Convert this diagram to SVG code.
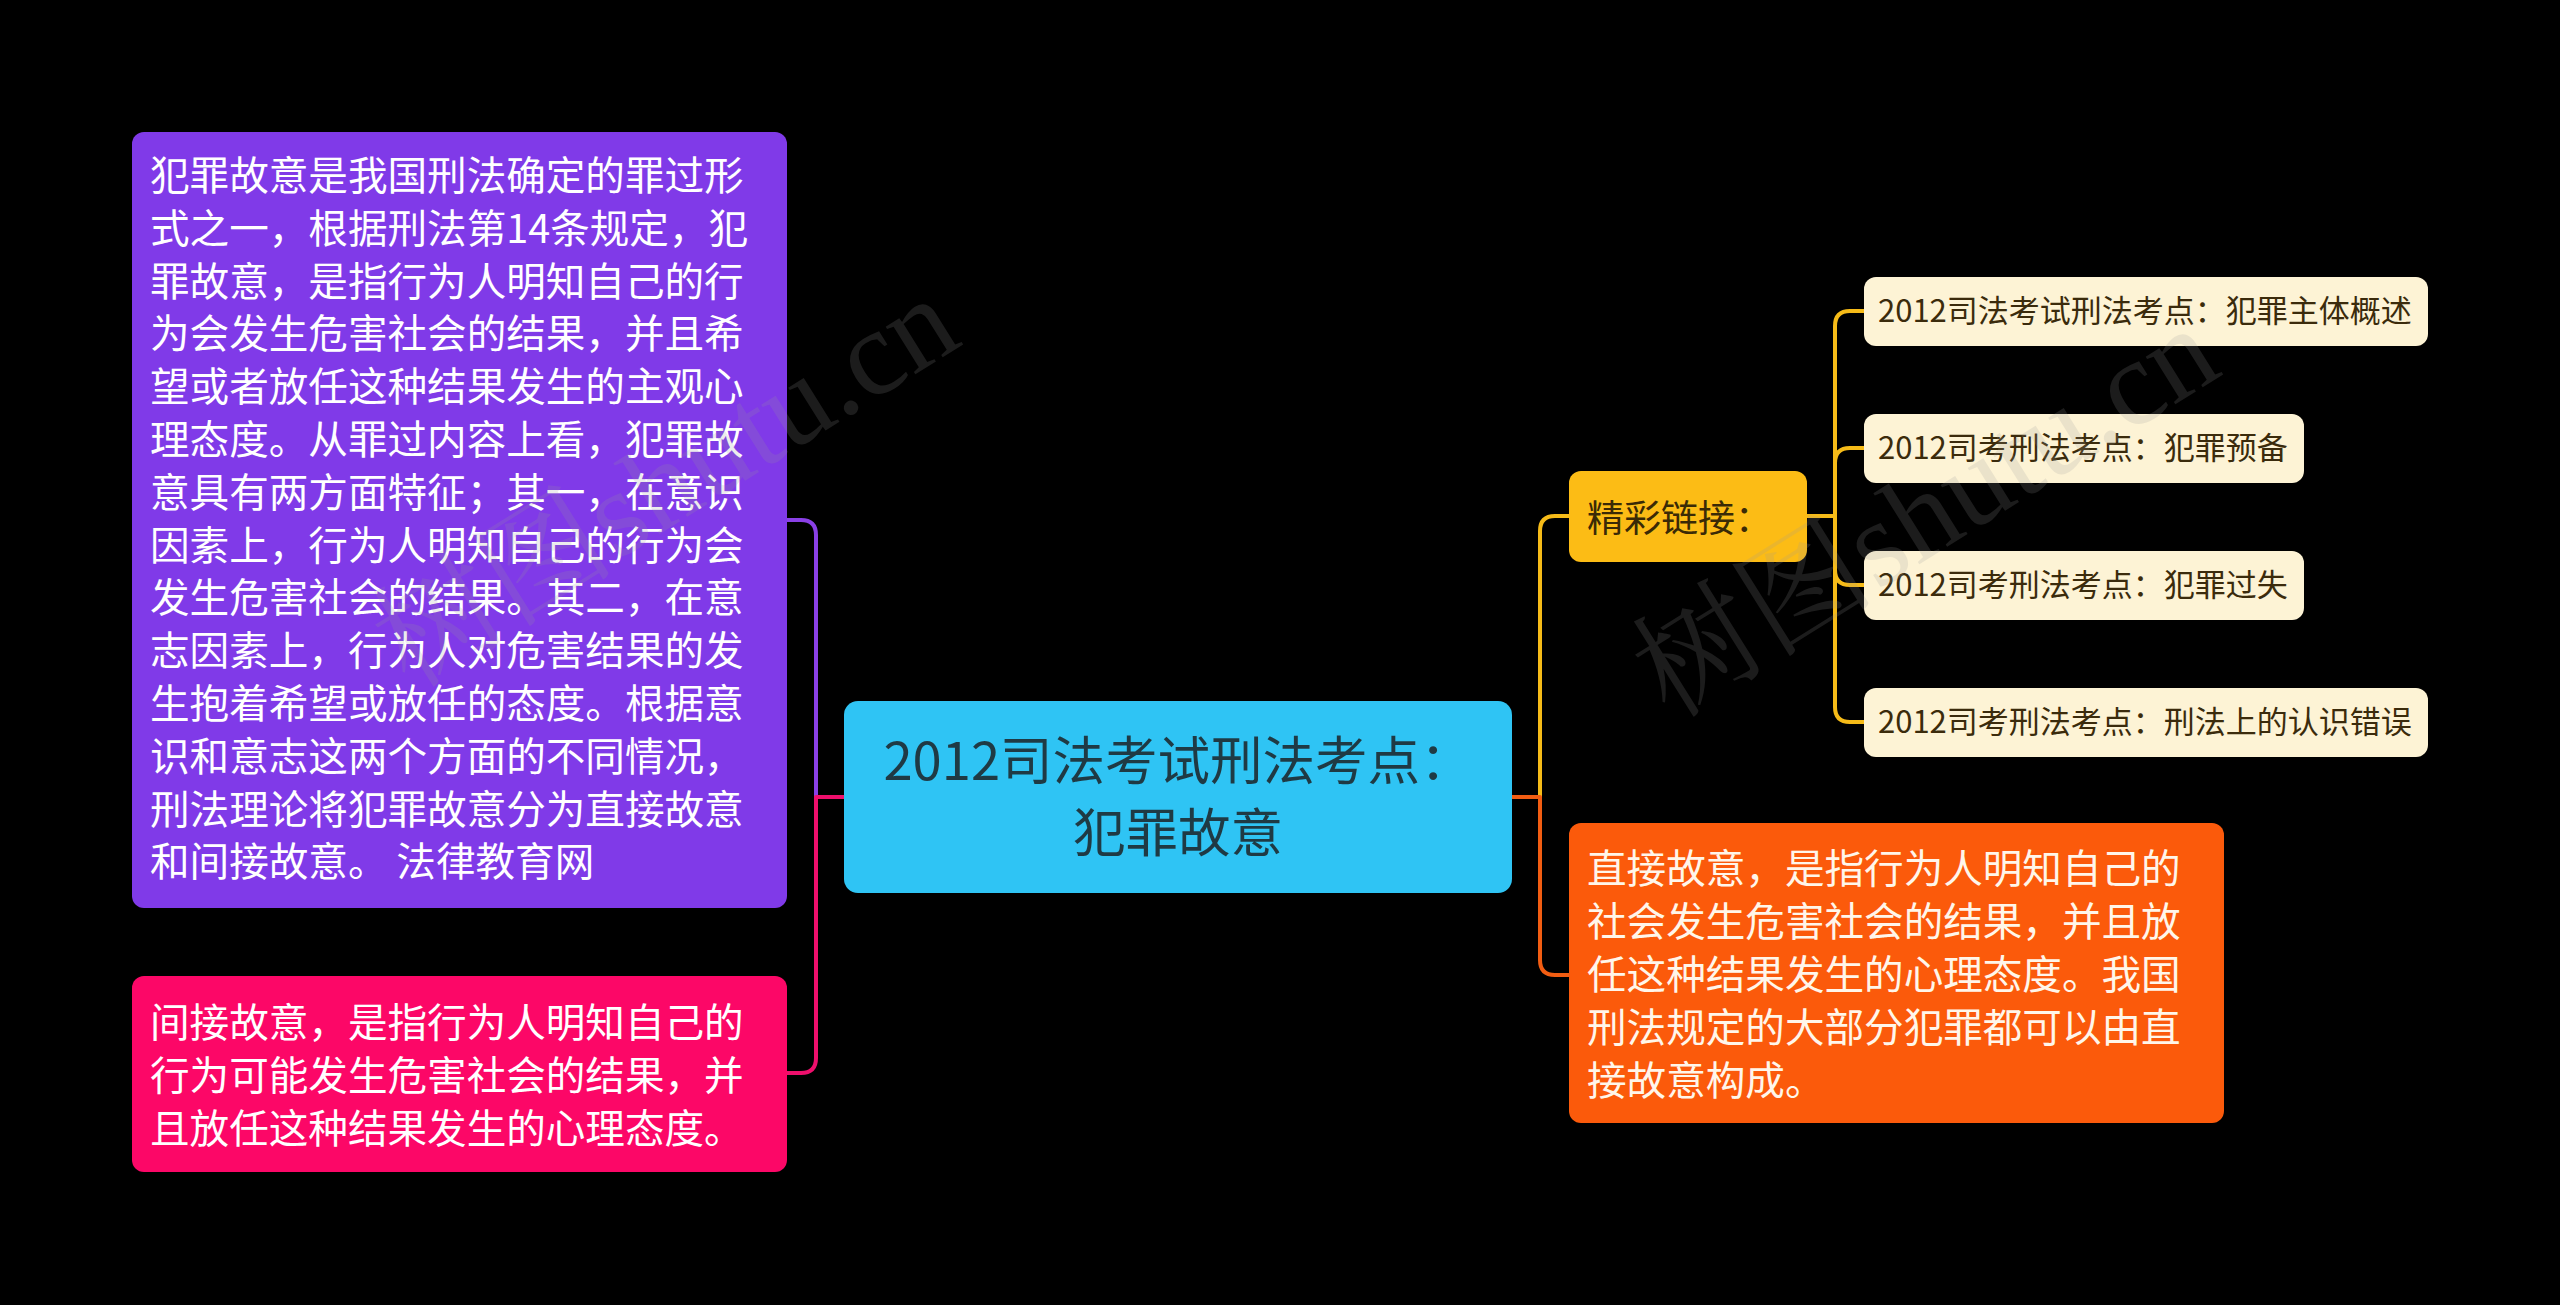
<svg xmlns="http://www.w3.org/2000/svg" width="2560" height="1305" viewBox="0 0 2560 1305">
<style>
text{font-family:"Noto Sans CJK SC","Noto Sans",sans-serif}
.t39{font-size:39.6px;fill:#ffffff}
.t30{font-size:31px;fill:#3b2b0c}
.c{fill:none;stroke-width:4;stroke-linecap:round;stroke-linejoin:round}
.link{fill:#fdf3d5}
.wm{font-family:"Liberation Serif","Noto Serif CJK SC","Noto Sans CJK SC",serif;font-size:122px;fill:#9a9a9a;opacity:0.18}
</style>
<rect x="0" y="0" width="2560" height="1305" fill="#000000"/>
<g id="connectors">
<path class="c" stroke="#8a40e6" d="M844,797 H816 V535 Q816,520 801,520 H787"/>
<path class="c" stroke="#ee0f6c" d="M844,797 H816 V1058 Q816,1073 801,1073 H787"/>
<path class="c" stroke="#f6bb18" d="M1512,797 H1540 V531 Q1540,516 1555,516 H1570"/>
<path class="c" stroke="#f25d12" d="M1512,797 H1540 V960 Q1540,975 1555,975 H1570"/>
<path class="c" stroke="#f6bb18" stroke-width="3.5" d="M1807,516 H1835 V326 Q1835,311 1850,311 H1864"/>
<path class="c" stroke="#f6bb18" stroke-width="3.5" d="M1807,516 H1835 V463 Q1835,448 1850,448 H1864"/>
<path class="c" stroke="#f6bb18" stroke-width="3.5" d="M1807,516 H1835 V570 Q1835,585 1850,585 H1864"/>
<path class="c" stroke="#f6bb18" stroke-width="3.5" d="M1807,516 H1835 V707 Q1835,722 1850,722 H1864"/>
</g>
<g id="root">
<rect x="844" y="701" width="668" height="192" rx="14" fill="#2fc4f4"/>
<text x="1178" y="780" text-anchor="middle" font-size="52.5" fill="#1f3a44">2012司法考试刑法考点：</text>
<text x="1178" y="852" text-anchor="middle" font-size="52.5" fill="#1f3a44">犯罪故意</text>
</g>
<g id="node-purple">
<rect x="132" y="132" width="655" height="776" rx="12" fill="#803ae8"/>
<text class="t39">
<tspan x="150" y="190">犯罪故意是我国刑法确定的罪过形</tspan>
<tspan x="150" y="242.8">式之一，根据刑法第14条规定，犯</tspan>
<tspan x="150" y="295.6">罪故意，是指行为人明知自己的行</tspan>
<tspan x="150" y="348.4">为会发生危害社会的结果，并且希</tspan>
<tspan x="150" y="401.2">望或者放任这种结果发生的主观心</tspan>
<tspan x="150" y="454">理态度。从罪过内容上看，犯罪故</tspan>
<tspan x="150" y="506.8">意具有两方面特征；其一，在意识</tspan>
<tspan x="150" y="559.6">因素上，行为人明知自己的行为会</tspan>
<tspan x="150" y="612.4">发生危害社会的结果。其二，在意</tspan>
<tspan x="150" y="665.2">志因素上，行为人对危害结果的发</tspan>
<tspan x="150" y="718">生抱着希望或放任的态度。根据意</tspan>
<tspan x="150" y="770.8">识和意志这两个方面的不同情况，</tspan>
<tspan x="150" y="823.6">刑法理论将犯罪故意分为直接故意</tspan>
<tspan x="150" y="876.4">和间接故意。 法律教育网</tspan>
</text>
</g>
<g id="node-pink">
<rect x="132" y="976" width="655" height="196" rx="12" fill="#fc0767"/>
<text class="t39">
<tspan x="150" y="1037">间接故意，是指行为人明知自己的</tspan>
<tspan x="150" y="1090">行为可能发生危害社会的结果，并</tspan>
<tspan x="150" y="1143">且放任这种结果发生的心理态度。</tspan>
</text>
</g>
<g id="node-yellow">
<rect x="1569" y="471" width="238" height="91" rx="12" fill="#fcbc15"/>
<text x="1587" y="532" font-size="37" fill="#3a2a06">精彩链接：</text>
</g>
<g id="node-orange">
<rect x="1569" y="823" width="655" height="300" rx="12" fill="#fb5a0b"/>
<text class="t39" style="fill:#fff6ea">
<tspan x="1587" y="883">直接故意，是指行为人明知自己的</tspan>
<tspan x="1587" y="936">社会发生危害社会的结果，并且放</tspan>
<tspan x="1587" y="989">任这种结果发生的心理态度。我国</tspan>
<tspan x="1587" y="1042">刑法规定的大部分犯罪都可以由直</tspan>
<tspan x="1587" y="1095">接故意构成。</tspan>
</text>
</g>
<g id="link-1">
<rect class="link" x="1864" y="277" width="564" height="69" rx="12"/>
<text class="t30" x="1878" y="322">2012司法考试刑法考点：犯罪主体概述</text>
</g>
<g id="link-2">
<rect class="link" x="1864" y="414" width="440" height="69" rx="12"/>
<text class="t30" x="1878" y="459">2012司考刑法考点：犯罪预备</text>
</g>
<g id="link-3">
<rect class="link" x="1864" y="551" width="440" height="69" rx="12"/>
<text class="t30" x="1878" y="596">2012司考刑法考点：犯罪过失</text>
</g>
<g id="link-4">
<rect class="link" x="1864" y="688" width="564" height="69" rx="12"/>
<text class="t30" x="1878" y="733">2012司考刑法考点：刑法上的认识错误</text>
</g>
<g id="watermarks">
<text class="wm" transform="translate(410,690) rotate(-32)">树图shutu.cn</text>
<text class="wm" transform="translate(1670,720) rotate(-32)">树图shutu.cn</text>
</g>
</svg>
